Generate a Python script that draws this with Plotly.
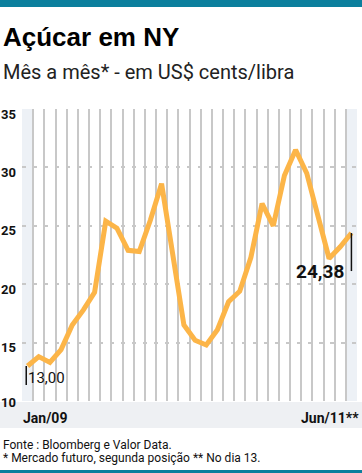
import plotly.graph_objects as go

# ---- data ----
months = ["Jan/09","Fev/09","Mar/09","Abr/09","Mai/09","Jun/09","Jul/09","Ago/09","Set/09","Out/09","Nov/09","Dez/09",
          "Jan/10","Fev/10","Mar/10","Abr/10","Mai/10","Jun/10","Jul/10","Ago/10","Set/10","Out/10","Nov/10","Dez/10",
          "Jan/11","Fev/11","Mar/11","Abr/11","Mai/11","Jun/11"]
prices = [13.0, 13.8, 13.3, 14.4, 16.5, 17.8, 19.3, 25.4, 24.8, 22.9, 22.8, 25.5,
          28.6, 22.5, 16.5, 15.2, 14.8, 16.1, 18.5, 19.4, 22.3, 26.9, 25.0, 29.3,
          31.5, 29.5, 25.8, 22.2, 23.2, 24.38]
y_ticks = [10, 15, 20, 25, 30, 35]
x_labels = ["Jan/09", "Jun/11**"]
first_label = "13,00"
last_label = "24,38"

title = "Açúcar em NY"
subtitle = "Mês a mês* - em US$ cents/libra"
source1 = "Fonte : Bloomberg e Valor Data."
source2 = "* Mercado futuro, segunda posição ** No dia 13."

# ---- layout geometry (pixels) ----
W, H = 362, 473
L, R, T, B = 22, 5, 109, 72
PW, PH = W - L - R, H - T - B

def px(x):
    return (x - L) / PW

def py(y):
    return (H - B - y) / PH

n = len(prices)
xs = list(range(n))

TEAL = "#0b7f9d"
ORANGE = "#fcb548"
GRID = "#c8c8c8"
LIGHT = "#edf1f6"
BAND = "#eef0f3"
FONT = "Roboto"

fig = go.Figure()
fig.add_trace(go.Scatter(x=xs, y=prices, mode="lines",
                         line=dict(color=ORANGE, width=5),
                         hoverinfo="skip", showlegend=False))

shapes = []
for i in (0, n - 1):
    shapes.append(dict(type="rect", xref="x", yref="paper", x0=i - 0.5, x1=i + 0.5, y0=0, y1=1,
                       fillcolor=LIGHT, line=dict(width=0), layer="below"))
shapes.append(dict(type="rect", xref="paper", yref="paper", x0=px(0), x1=px(W), y0=py(428), y1=py(402),
                   fillcolor=BAND, line=dict(width=0), layer="below"))
shapes.append(dict(type="rect", xref="paper", yref="paper", x0=px(0), x1=px(W), y0=py(7), y1=py(0),
                   fillcolor=TEAL, line=dict(width=0)))
shapes.append(dict(type="rect", xref="paper", yref="paper", x0=px(0), x1=px(W), y0=py(H), y1=py(470),
                   fillcolor=TEAL, line=dict(width=0)))
shapes.append(dict(type="line", xref="x", yref="y", ysizemode="pixel", yanchor=prices[0],
                   x0=xs[0] - 0.12, x1=xs[0] - 0.12, y0=0, y1=-19, line=dict(color="#111", width=1.5)))
shapes.append(dict(type="line", xref="x", yref="y", ysizemode="pixel", yanchor=prices[-1],
                   x0=xs[-1], x1=xs[-1], y0=0, y1=-38, line=dict(color="#111", width=1.5)))

ann = []
ann.append(dict(text=f"<b>{title}</b>", xref="paper", yref="paper", x=px(1), y=py(37),
                xanchor="left", yanchor="middle", showarrow=False,
                font=dict(family="Liberation Sans", size=26, color="#000")))
ann.append(dict(text=subtitle, xref="paper", yref="paper", x=px(1), y=py(72),
                xanchor="left", yanchor="middle", showarrow=False,
                font=dict(family=FONT, size=20, color="#222")))
ann.append(dict(text=source1, xref="paper", yref="paper", x=px(1), y=py(445),
                xanchor="left", yanchor="middle", showarrow=False,
                font=dict(family=FONT, size=12, color="#111")))
ann.append(dict(text=source2, xref="paper", yref="paper", x=px(1), y=py(458),
                xanchor="left", yanchor="middle", showarrow=False,
                font=dict(family=FONT, size=12, color="#111")))
ann.append(dict(text=f"<b>{x_labels[0]}</b>", xref="paper", yref="paper", x=px(21), y=py(418),
                xanchor="left", yanchor="middle", showarrow=False,
                font=dict(family=FONT, size=14, color="#111")))
ann.append(dict(text=f"<b>{x_labels[1]}</b>", xref="paper", yref="paper", x=px(361), y=py(418),
                xanchor="right", yanchor="middle", showarrow=False,
                font=dict(family=FONT, size=14, color="#111")))
for v in y_ticks:
    ann.append(dict(text=f"<b>{v}</b>", xref="paper", yref="y", x=px(18), y=v,
                    xanchor="right", yanchor="middle", showarrow=False,
                    yshift=(-1 if v == y_ticks[0] else -5),
                    font=dict(family=FONT, size=13, color="#111")))
ann.append(dict(text=first_label, xref="x", yref="y", x=xs[0], y=prices[0],
                xanchor="left", yanchor="middle", showarrow=False, xshift=-2, yshift=-12,
                font=dict(family=FONT, size=15, color="#111")))
ann.append(dict(text=f"<b>{last_label}</b>", xref="x", yref="y", x=xs[-1], y=prices[-1],
                xanchor="right", yanchor="middle", showarrow=False, xshift=-5, yshift=-38,
                font=dict(family=FONT, size=19, color="#111")))

fig.update_layout(
    width=W, height=H,
    margin=dict(l=L, r=R, t=T, b=B),
    paper_bgcolor="white", plot_bgcolor="white",
    shapes=shapes, annotations=ann,
    showlegend=False,
    xaxis=dict(range=[-0.5, n - 0.5], tickmode="array",
               tickvals=[i - 0.5 for i in range(n)], showticklabels=False,
               showgrid=True, gridcolor=GRID, gridwidth=2, zeroline=False,
               showline=False, ticks="", fixedrange=True),
    yaxis=dict(range=[y_ticks[0], y_ticks[-1]], tickmode="array", tickvals=y_ticks[1:],
               showticklabels=False, showgrid=True, gridcolor=GRID, gridwidth=2,
               griddash="4px,7px", zeroline=False, showline=False, ticks="", fixedrange=True),
)

fig.write_html("out.html", config={"displayModeBar": False},
               post_script="document.body.style.margin='0';document.body.style.overflow='hidden';")
